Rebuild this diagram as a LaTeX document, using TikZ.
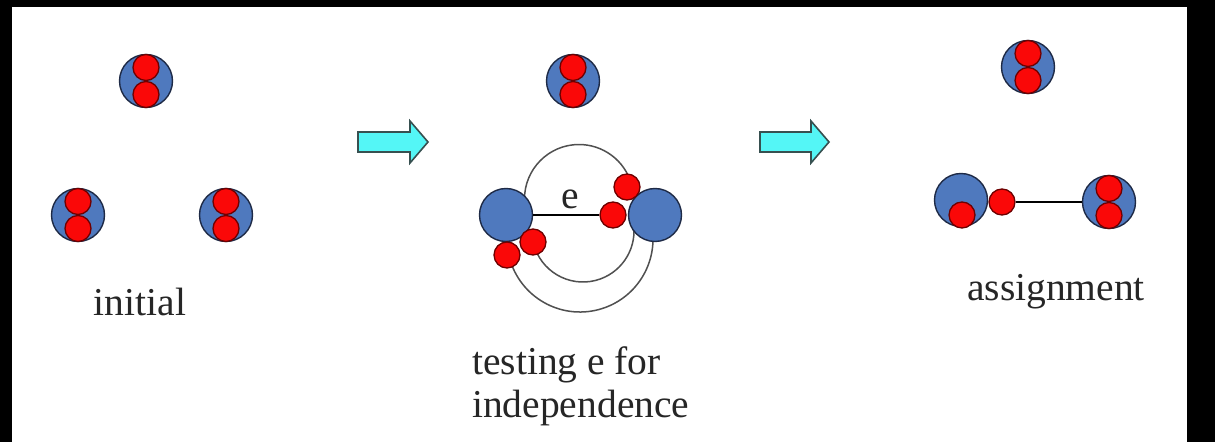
\documentclass[tikz,border=0pt]{standalone}
\usepackage{fontspec}
\setmainfont{Liberation Serif}
\definecolor{cellblue}{RGB}{79,121,190}
\definecolor{blueline}{RGB}{30,42,70}
\definecolor{redfill}{RGB}{250,8,8}
\definecolor{redline}{RGB}{110,0,0}
\definecolor{arrowfill}{RGB}{84,246,246}
\definecolor{arrowline}{RGB}{55,80,80}
\definecolor{arcgray}{RGB}{80,80,80}
\tikzset{
  bluecell/.style={circle, fill=cellblue, draw=blueline, line width=1.4pt, minimum size=53pt, inner sep=0pt},
  redcell/.style={circle, fill=redfill, draw=redline, line width=1.3pt, minimum size=26pt, inner sep=0pt},
  bigarrow/.style={fill=arrowfill, draw=arrowline, line width=1.6pt, line join=miter},
  arcline/.style={draw=arcgray, line width=1.5pt},
  edgeline/.style={draw=black, line width=1.3pt},
  label/.style={font=\fontsize{39.5}{43}\selectfont, inner sep=0pt, text=black!85}
}
\begin{document}
\begin{tikzpicture}[x=1pt,y=1pt]
\useasboundingbox (0,0) rectangle (1215,442);
\fill[black] (0,0) rectangle (1215,442);
\fill[white] (12,0) rectangle (1187,435);

% ---------- initial ----------
\node[bluecell] (iA) at (146,361) {};
\node[redcell] (iA1) at (146,374.5) {};
\node[redcell] (iA2) at (146,347.5) {};
\node[bluecell] (iB) at (78,227) {};
\node[redcell] (iB1) at (78,240.5) {};
\node[redcell] (iB2) at (78,213.5) {};
\node[bluecell] (iC) at (226,227) {};
\node[redcell] (iC1) at (226,240.5) {};
\node[redcell] (iC2) at (226,213.5) {};
\node[label, anchor=base] (tinit) at (140,127) {initial};

% ---------- arrows ----------
\draw[bigarrow] (358,290) -- (410,290) -- (410,279) -- (428,300) -- (410,321) -- (410,310) -- (358,310) -- cycle;
\draw[bigarrow] (760,290) -- (811,290) -- (811,279) -- (829,300) -- (811,321) -- (811,310) -- (760,310) -- cycle;

% ---------- testing ----------
\node[bluecell] (tD) at (573,361) {};
\node[redcell] (tD1) at (573,374.5) {};
\node[redcell] (tD2) at (573,347.5) {};
% arcs (behind the cells)
\draw[arcline] ([shift={(186:54.5)}]579,243) arc[start angle=186, end angle=20, radius=54.5];
\draw[arcline] ([shift={(200:51)}]583,211) arc[start angle=200, end angle=370, radius=51];
\draw[arcline] ([shift={(198:73)}]580,203) arc[start angle=198, end angle=370, radius=73];
\node[bluecell] (tL) at (506,227) {};
\node[bluecell] (tR) at (655,227) {};
\node[redcell] (tm1) at (627,255) {};
\node[redcell] (tm2) at (613,227) {};
\node[redcell] (tm3) at (533,200) {};
\node[redcell] (tm4) at (507,187) {};
\draw[edgeline] (tL) -- (tm2);
\node[label, anchor=base] (te) at (570,233) {e};
\node[label, anchor=base west] (ttest1) at (472,68) {testing e for};
\node[label, anchor=base west] (ttest2) at (472,25) {independence};

% ---------- assignment ----------
\node[bluecell] (aE) at (1028,375) {};
\node[redcell] (aE1) at (1028,388.5) {};
\node[redcell] (aE2) at (1028,361.5) {};
\node[bluecell] (aP) at (961,242) {};
\node[redcell] (aP1) at (962,227) {};
\node[redcell] (aP2) at (1002,240) {};
\node[bluecell] (aF) at (1109,240) {};
\node[redcell] (aF1) at (1109,253.5) {};
\node[redcell] (aF2) at (1109,226.5) {};
\draw[edgeline] (aP2) -- (aF);
\node[label, anchor=base] (tassign) at (1056,141) {assignment};
\end{tikzpicture}
\end{document}
